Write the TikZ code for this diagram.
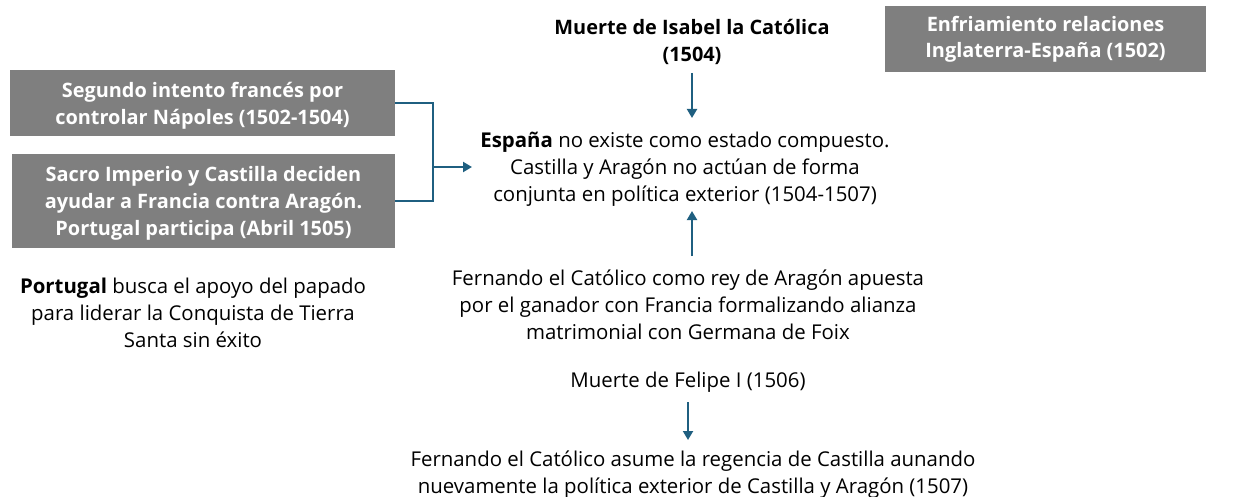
\documentclass[tikz,border=0pt]{standalone}
\usepackage{fontspec}
\setmainfont{Open Sans}
\usetikzlibrary{arrows.meta}
\definecolor{boxgray}{RGB}{127,127,127}
\definecolor{arrowblue}{RGB}{31,95,128}
\tikzset{
  grayrect/.style={fill=boxgray,inner sep=0pt},
  graytext/.style={text=white,font=\fontsize{19.9}{27}\selectfont\bfseries,align=center,inner sep=0pt},
  plain/.style={font=\fontsize{20.4}{26.8}\selectfont,align=center,inner sep=0pt},
  conn/.style={draw=arrowblue,line width=2pt,-{Triangle[length=9pt,width=10pt]}},
  connline/.style={draw=arrowblue,line width=2pt}
}
\begin{document}
\begin{tikzpicture}[x=1pt,y=-1pt]
\useasboundingbox (0,0) rectangle (1246,497);
% gray boxes
\node[grayrect,minimum width=385pt,minimum height=66pt] (b1) at (202.5,103) {};
\node[graytext] (b1t) at ([yshift=-2.5pt]b1.center) {Segundo intento francés por\\controlar Nápoles (1502-1504)};
\node[grayrect,minimum width=383pt,minimum height=94pt] (b2) at (203.5,201) {};
\node[graytext] (b2t) at ([yshift=-2pt]b2.center) {Sacro Imperio y Castilla deciden\\ayudar a Francia contra Aragón.\\Portugal participa (Abril 1505)};
\node[grayrect,minimum width=321pt,minimum height=66pt] (b3) at (1045.5,39) {};
\node[graytext,font=\fontsize{19.9}{25.5}\selectfont\bfseries] (b3t) at ([yshift=-0.5pt]b3.center) {Enfriamiento relaciones\\Inglaterra-España (1502)};
% texts
\node[plain,font=\fontsize{19.9}{27.5}\selectfont\bfseries] (isabel) at (692,42) {Muerte de Isabel la Católica\\(1504)};
\node[plain] (espana) at (685,169) {\textbf{España} no existe como estado compuesto.\\Castilla y Aragón no actúan de forma\\conjunta en política exterior (1504-1507)};
\node[plain] (fernando) at (688,304.5) {Fernando el Católico como rey de Aragón apuesta\\por el ganador con Francia formalizando alianza\\matrimonial con Germana de Foix};
\node[plain] (portugal) at (193,313) {\textbf{Portugal} busca el apoyo del papado\\para liderar la Conquista de Tierra\\Santa sin éxito};
\node[plain] (felipe) at (688,382) {Muerte de Felipe I (1506)};
\node[plain,font=\fontsize{20.4}{26.3}\selectfont] (regencia) at (693,474.5) {Fernando el Católico asume la regencia de Castilla aunando\\nuevamente la política exterior de Castilla y Aragón (1507)};
% connectors
\coordinate (j) at (433,167);
\coordinate (tip) at (472,167);
\draw[connline] (b1.east) -| (j);
\draw[connline] (b2.east) -| (j);
\draw[conn] (j) -- (tip);
\draw[conn] (692,73) -- (692,118);
\draw[conn] (692,256) -- (692,211);
\draw[conn] (688,402) -- (688,440);
\end{tikzpicture}
\end{document}
